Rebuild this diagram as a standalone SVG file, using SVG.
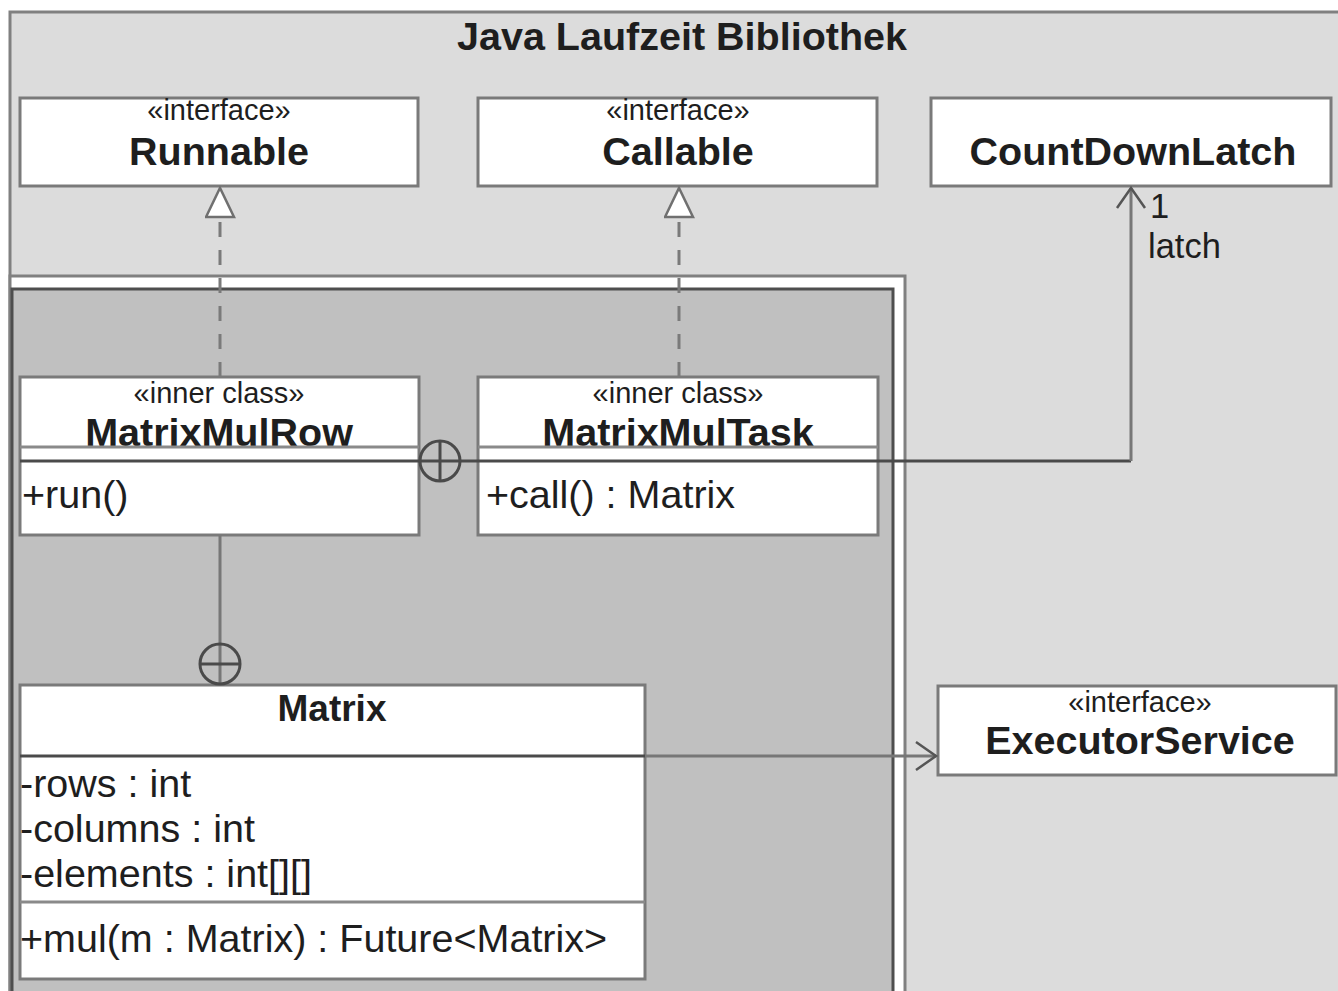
<svg xmlns="http://www.w3.org/2000/svg" width="1338" height="991" viewBox="0 0 1338 991">
<style>
text{font-family:"Liberation Sans",Arial,sans-serif;fill:#1e1e1e}
.b{font-weight:bold;font-size:39.5px;text-anchor:middle}
.st{font-size:29px;text-anchor:middle}
.r{font-size:39.5px}
.sm{font-size:34.5px}
.box{fill:#fff;stroke:#7a7a7a;stroke-width:3}
.sep{stroke:#8a8a8a;stroke-width:3}
.dk{stroke:#4a4a4a;stroke-width:3;fill:none}
.ln{stroke:#777;stroke-width:3;fill:none}
.dash{stroke:#7a7a7a;stroke-width:3;fill:none;stroke-dasharray:15 13}
</style>
<defs>
<marker id="tri" markerWidth="34" markerHeight="34" refX="31" refY="15" orient="auto" markerUnits="userSpaceOnUse">
<path d="M2,1 L31,15 L2,29 Z" fill="#fff" stroke="#707070" stroke-width="2.5"/>
</marker>
<marker id="open" markerWidth="26" markerHeight="36" refX="21" refY="16" orient="auto" markerUnits="userSpaceOnUse">
<path d="M1,2 L21,16 L1,30" fill="none" stroke="#555" stroke-width="2.5"/>
</marker>
</defs>
<rect width="1338" height="991" fill="#fff"/>
<g id="pkg-java">
<rect x="10" y="12" width="1340" height="990" fill="#dcdcdc" stroke="#808080" stroke-width="3"/>
<text x="682" y="50" class="b">Java Laufzeit Bibliothek</text>
</g>
<g id="pkg-frame">
<rect x="10" y="276" width="895" height="730" fill="#fff" stroke="#808080" stroke-width="3"/>
</g>
<g id="pkg-inner">
<rect x="12" y="289" width="881" height="720" fill="#c0c0c0" stroke="#4e4e4e" stroke-width="3"/>
</g>
<g id="Runnable">
<rect class="box" x="20" y="98" width="398" height="88"/>
<text x="219" y="120" class="st">«interface»</text>
<text x="219" y="165" class="b">Runnable</text>
</g>
<g id="Callable">
<rect class="box" x="478" y="98" width="399" height="88"/>
<text x="678" y="120" class="st">«interface»</text>
<text x="678" y="165" class="b">Callable</text>
</g>
<g id="CountDownLatch">
<rect class="box" x="931" y="98" width="400" height="88"/>
<text x="1133" y="165" class="b">CountDownLatch</text>
</g>
<g id="MatrixMulRow">
<rect class="box" x="20" y="377" width="399" height="158"/>
<text x="219" y="403" class="st">«inner class»</text>
<text x="219" y="446" class="b">MatrixMulRow</text>
<line class="sep" x1="20" y1="447" x2="419" y2="447"/>
<line class="dk" x1="20" y1="461" x2="419" y2="461"/>
<text x="22" y="508" class="r">+run()</text>
</g>
<g id="MatrixMulTask">
<rect class="box" x="478" y="377" width="400" height="158"/>
<text x="678" y="403" class="st">«inner class»</text>
<text x="678" y="446" class="b">MatrixMulTask</text>
<line class="sep" x1="478" y1="447" x2="878" y2="447"/>
<text x="486" y="508" class="r">+call() : Matrix</text>
</g>
<g id="Matrix">
<rect class="box" x="20" y="685" width="625" height="294"/>
<text x="332" y="721" class="b" style="font-size:37px">Matrix</text>
<line class="dk" x1="20" y1="756" x2="645" y2="756"/>
<text x="20" y="797" class="r">-rows : int</text>
<text x="20" y="842" class="r">-columns : int</text>
<text x="20" y="887" class="r">-elements : int[][]</text>
<line class="sep" x1="20" y1="902" x2="645" y2="902"/>
<text x="20" y="952" class="r">+mul(m : Matrix) : Future&lt;Matrix&gt;</text>
</g>
<g id="ExecutorService">
<rect class="box" x="938" y="686" width="398" height="89"/>
<text x="1140" y="712" class="st">«interface»</text>
<text x="1140" y="754" class="b">ExecutorService</text>
</g>
<g id="connectors">
<path class="dash" d="M220,377 V188" marker-end="url(#tri)"/>
<path class="dash" d="M679,377 V188" marker-end="url(#tri)"/>
<path class="dk" d="M419,461 H1131"/>
<path class="ln" d="M1131,461 V188" marker-end="url(#open)"/>
<circle cx="440" cy="461" r="20" fill="none" stroke="#4a4a4a" stroke-width="3"/>
<line class="dk" x1="440" y1="441" x2="440" y2="481"/>
<path class="ln" d="M220,535 V685"/>
<circle cx="220" cy="664" r="20" fill="none" stroke="#4a4a4a" stroke-width="3"/>
<line class="dk" x1="200" y1="664" x2="240" y2="664"/>
<path class="ln" d="M645,756 H936" marker-end="url(#open)"/>
<text x="1150" y="218" class="sm">1</text>
<text x="1148" y="258" class="sm">latch</text>
</g>
</svg>
